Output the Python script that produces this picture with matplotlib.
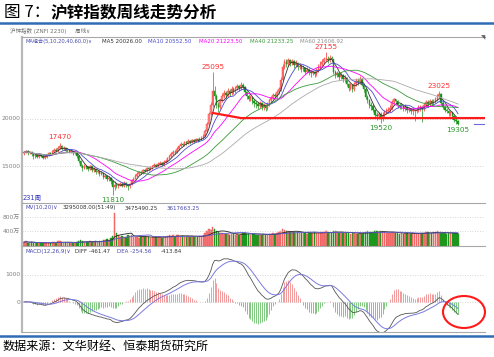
import numpy as np
import pandas as pd
import matplotlib
matplotlib.use('Agg')
import matplotlib.pyplot as plt
from matplotlib.patches import Ellipse

plt.rcParams['font.family'] = ['DejaVu Sans', 'Noto Sans CJK SC']

# ---------------- data (weekly bars) ----------------
opens = [
16300,16400,16550,16300,16450,16200,16000,16100,15950,16150,
16050,15850,15900,16100,16300,16250,16500,16700,16600,16900,
17100,16800,16900,16600,16700,16450,16550,16300,16400,16000,
15500,15000,14700,15000,14800,14600,14900,14500,14650,14300,
14400,14100,14200,13800,13900,13500,13700,13300,12700,12900,
12800,12950,13050,12850,13100,12900,12750,13000,13400,13600,
13900,14100,14300,14200,14500,14400,14700,14600,14800,14900,
15100,14950,15200,15300,15100,15400,15500,15800,16000,16200,
16500,16400,16800,17100,17300,17200,17500,17400,17600,17500,
17700,17600,17800,17700,17900,18000,18200,18700,19500,20500,
21500,23000,22500,21500,21300,22000,22500,22800,22600,23000,
22800,23200,23000,23300,23500,23300,23700,23400,22900,22500,
22200,22400,21900,21700,21600,21400,21700,21300,21500,21200,
21600,22000,22300,22600,22500,22900,23200,24200,25600,26100,
25900,26300,26000,26200,25800,26000,25600,25700,25400,25500,
25100,25300,25000,24900,25100,24800,25300,25600,25900,26100,
26400,26500,26300,26600,26400,25000,24700,24900,24500,24700,
24300,24400,23800,23300,23700,23200,23800,24100,24000,24300,
23700,23200,22400,22000,21500,21400,21000,20400,20300,20500,
20100,20400,20800,20900,21000,21200,21800,22100,21900,21500,
21400,21400,21200,21300,21000,21100,20900,20900,20900,21000,
21300,21300,21100,21500,21800,21600,21900,21700,21900,22100,
22500,22700,21700,21300,21000,20900,20600,20700,20300,19900,
19800]
closes = [
16400,16550,16300,16450,16200,16000,16100,15950,16150,16050,
15850,15900,16100,16300,16250,16500,16700,16600,16900,17100,
16800,16900,16600,16700,16450,16550,16300,16400,16000,15500,
15000,14700,15000,14800,14600,14900,14500,14650,14300,14400,
14100,14200,13800,13900,13500,13700,13300,12700,12900,12800,
12950,13050,12850,13100,12900,12750,13000,13400,13600,13900,
14100,14300,14200,14500,14400,14700,14600,14800,14900,15100,
14950,15200,15300,15100,15400,15500,15800,16000,16200,16500,
16400,16800,17100,17300,17200,17500,17400,17600,17500,17700,
17600,17800,17700,17900,18000,18200,18700,19500,20500,21500,
23000,22500,21500,21300,22000,22500,22800,22600,23000,22800,
23200,23000,23300,23500,23300,23700,23400,22900,22500,22200,
22400,21900,21700,21600,21400,21700,21300,21500,21200,21600,
22000,22300,22600,22500,22900,23200,24200,25600,26100,25900,
26300,26000,26200,25800,26000,25600,25700,25400,25500,25100,
25300,25000,24900,25100,24800,25300,25600,25900,26100,26400,
26500,26300,26600,26400,25000,24700,24900,24500,24700,24300,
24400,23800,23300,23700,23200,23800,24100,24000,24300,23700,
23200,22400,22000,21500,21400,21000,20400,20300,20500,20100,
20400,20800,20900,21000,21200,21800,22100,21900,21500,21400,
21400,21200,21300,21000,21100,20900,20900,20900,21000,21300,
21300,21100,21500,21800,21600,21900,21700,21900,22100,22500,
22700,21700,21300,21000,20900,20600,20700,20300,19900,19800,
19430]
highs = [
16550,16700,16650,16600,16550,16300,16250,16200,16300,16250,
16150,16050,16250,16450,16450,16650,16850,16850,17050,17470,
17200,17100,17000,16850,16800,16700,16600,16550,16450,16100,
15600,15150,15200,15100,14900,15050,14950,14800,14700,14550,
14500,14400,14250,14100,14000,13850,13750,13400,13300,13100,
13150,13250,13200,13300,13200,13000,13150,13550,13750,14050,
14250,14450,14450,14650,14600,14850,14800,14950,15100,15250,
15200,15350,15450,15400,15550,15700,15950,16150,16400,16650,
16650,16950,17250,17500,17450,17650,17650,17800,17750,17850,
17850,17950,17950,18050,18200,18400,18900,19700,20700,21800,
25095,23600,22700,21800,22200,22800,23100,23000,23300,23200,
23500,23400,23600,23800,23700,23950,23850,23500,23000,22700,
22600,22500,22100,21900,21800,21900,21800,21700,21600,21800,
22200,22500,22800,22800,23100,23400,24500,25900,26500,26400,
26600,26500,26500,26300,26300,26100,26000,25900,25800,25600,
25600,25500,25200,25300,25200,25500,25900,26200,26400,26700,
27155,26800,26900,26800,26500,25300,25200,25100,25000,24800,
24700,24500,23900,23900,23800,24000,24400,24400,24600,24400,
23800,23300,22600,22200,21800,21600,21100,20700,20800,20700,
20700,21000,21200,21300,21500,22000,22260,22200,22000,21700,
21700,21600,21600,21400,21300,21200,21200,21100,21200,21500,
21500,21400,21700,22000,22000,22100,22100,22200,22400,22700,
23025,22800,21900,21500,21200,21000,20900,20800,20400,20100,
19900]
lows = [
16150,16300,16100,16200,16050,15750,15850,15800,15850,15900,
15700,15650,15800,16000,16100,16150,16400,16450,16500,16800,
16650,16700,16450,16450,16300,16350,16150,16200,15850,15300,
14800,14450,14600,14600,14400,14500,14300,14350,14100,14150,
13900,13950,13600,13650,13300,13350,13050,11810,12400,12550,
12600,12750,12650,12700,12650,12400,12550,12900,13300,13500,
13750,14000,14050,14100,14250,14300,14450,14500,14650,14800,
14800,14850,15050,14950,15000,15300,15400,15700,15900,16100,
16250,16300,16700,17000,17050,17100,17250,17300,17350,17400,
17450,17500,17550,17600,17750,17900,18100,18600,19400,20300,
21300,22100,21200,20700,21100,21800,22300,22300,22400,22500,
22600,22700,22800,23100,23000,23100,23200,22600,22200,21900,
21900,21600,21300,21200,21100,21200,21000,21000,20900,21000,
21400,21800,22100,22200,22300,22700,23000,24100,25400,25600,
25700,25700,25800,25500,25600,25300,25400,25100,25200,24800,
24900,24700,24500,24700,24500,24600,25100,25400,25700,25900,
26200,26000,26100,26100,24800,24400,24500,24200,24300,24000,
24000,23500,23000,23100,22900,23000,23600,23700,23800,23500,
22900,22100,21700,21200,21000,20700,20100,19900,20000,19520,
19800,20200,20500,20600,20800,21000,21600,21600,21200,21100,
21100,20900,20900,20600,20700,20500,20400,19750,20600,20800,
20900,19700,20900,21300,21300,21400,21400,21500,21700,21900,
22300,21500,21100,20800,20600,20300,20300,20000,19700,19500,
19305]
volumes = [  # in 10k lots (万手)
105,130,95,90,115,80,90,70,95,80,
90,70,80,95,90,105,120,95,130,140,
105,95,90,80,95,90,80,90,120,150,
160,130,120,115,105,130,120,115,140,120,
150,130,165,160,190,175,230,280,900,370,
315,260,280,245,260,300,280,305,260,245,
255,230,260,245,235,260,245,230,255,245,
235,260,245,230,255,260,280,300,270,290,
260,300,290,270,280,260,255,280,260,270,
255,260,245,270,280,305,350,400,455,440,
525,455,400,385,370,350,330,325,340,315,
330,325,305,330,315,325,350,370,340,330,
315,340,325,305,300,315,305,325,300,315,
325,330,350,340,370,385,420,455,440,400,
420,395,375,385,370,375,360,350,370,350,
340,360,370,350,375,360,350,370,385,375,
400,385,370,350,420,400,385,370,375,360,
350,370,360,340,350,360,340,330,350,340,
370,385,400,395,375,385,400,420,395,410,
385,375,370,360,350,385,370,360,350,340,
350,340,360,350,340,330,350,340,330,340,
350,360,370,385,375,370,365,380,390,400,
366,360,350,345,340,345,350,355,350,350,
329.5]

extreme_bars = [19, 47, 100, 160, 189, 220, 230]
extreme_labels = ['17470', '11810', '25095', '27155', '19520', '23025', '19305']
extreme_is_high = [True, False, True, True, False, True, False]

support_x = [100, 115, 244.3]
support_y = [20650, 20100, 20100]

ma_windows = [5, 10, 20, 40, 60]
ma_colors = ['#333333', '#4a4ad0', '#ff00ff', '#3a9a3a', '#aaaaaa']
ma_legend = ['MA5 20026.00', 'MA10 20552.50', 'MA20 21223.50', 'MA40 21233.25', 'MA60 21606.92']

# ---------------- figure ----------------
W, H = 494, 357
fig = plt.figure(figsize=(W / 100, H / 100), dpi=100)

def fx(x):
    return x / W

def fy(y):
    return 1 - y / H

def add_ax(top, bottom, left=22, right=485):
    return fig.add_axes([left / W, 1 - bottom / H, (right - left) / W, (bottom - top) / H])

ax = add_ax(37, 203)
axv = add_ax(203, 246)
axm = add_ax(246, 332)

o = np.array(opens, float)
c = np.array(closes, float)
h = np.array(highs, float)
l = np.array(lows, float)
v = np.array(volumes, float)
n = len(c)
idx = np.arange(n)
XL = (-1.06, 244.3)
FS = 4.0

for a in (ax, axv, axm):
    a.set_xlim(*XL)
    a.set_xticks([])
    a.set_yticks([])
    for s in a.spines.values():
        s.set_visible(False)
    a.spines['left'].set_visible(True)
    a.spines['left'].set_color('#b8b8b8')
    a.spines['left'].set_linewidth(1.6)
    a.spines['top'].set_visible(True)
    a.spines['top'].set_color('#a8a8a8')
    a.spines['top'].set_linewidth(0.8)
axm.spines['bottom'].set_visible(True)
axm.spines['bottom'].set_color('#a8a8a8')
axm.spines['bottom'].set_linewidth(0.8)

# ---- price panel ----
ax.set_ylim(10970, 28815)
for lev in (20000, 15000):
    ax.axhline(lev, color='#c8c8c8', lw=0.6, ls=(0, (1, 2)))
up = c >= o
edge = np.where(up, '#ff3030', '#1d961d')
face = np.where(up, '#ff8a8a', '#1d961d')
ax.vlines(idx, l, h, colors=edge, lw=0.5, zorder=2)
body = np.maximum(np.abs(c - o), 40)
ax.bar(idx, body, bottom=np.minimum(o, c), width=0.8, color=face,
       edgecolor=edge, linewidth=0.3, zorder=3)
cs = pd.Series(c)
for w, col in zip(ma_windows, ma_colors):
    ax.plot(idx, cs.rolling(w, min_periods=1).mean(), color=col, lw=0.6, zorder=4)
ax.plot(support_x, support_y, color='#ff1a1a', lw=1.6, zorder=5)
ax.plot([238.5, 244.3], [c[-1], c[-1]], color='#6a6ad8', lw=0.8)

for b, lab, hi in zip(extreme_bars, extreme_labels, extreme_is_high):
    if hi:
        ax.annotate(lab, (b, h[b]), xytext=(0, 1.5), textcoords='offset points',
                    ha='center', va='bottom', fontsize=5.2, color='#ff3030')
    else:
        ax.annotate(lab, (b, l[b]), xytext=(0, -1), textcoords='offset points',
                    ha='center', va='top', fontsize=5.2, color='#2a962a')

# legend line
fig.text(fx(25), fy(41.5), 'MA组合(5,10,20,40,60,0)∨', fontsize=3.7, color='#4848b0', va='center')
for xx, txt, col in zip([102, 148, 199, 250, 300], ma_legend, ma_colors):
    fig.text(fx(xx), fy(41.5), txt, fontsize=FS, color=col if col != '#aaaaaa' else '#909090', va='center')
fig.text(fx(22.5), fy(198), '231周', fontsize=4.8, color='#3535c0', va='center')
fig.text(fx(20), fy(119), '20000', fontsize=4.3, color='#808080', va='center', ha='right')
fig.text(fx(20), fy(166), '15000', fontsize=4.3, color='#808080', va='center', ha='right')
fig.text(fx(483), fy(37.5), '◥', fontsize=4, color='#606060', va='center', ha='center')

# ---- volume panel ----
axv.set_ylim(0, 1180)
for lev in (400, 800):
    axv.axhline(lev, color='#c8c8c8', lw=0.6, ls=(0, (1, 2)))
vface = np.where(up, '#f47c7c', '#1d961d')
vedge = np.where(up, '#ee5050', '#1d961d')
axv.bar(idx, v, width=0.8, color=vface, edgecolor=vedge, linewidth=0.3)
vs = pd.Series(v)
axv.plot(idx, vs.rolling(10, min_periods=1).mean(), color='#222222', lw=0.6)
axv.plot(idx, vs.rolling(20, min_periods=1).mean(), color='#5a5ad0', lw=0.6)
fig.text(fx(25), fy(208), 'MV(10,20)∨', fontsize=FS, color='#4848b0', va='center')
fig.text(fx(63), fy(208), '3295008.00(51:49)', fontsize=FS, color='#333333', va='center')
fig.text(fx(125), fy(208), '3475490.25', fontsize=FS, color='#333333', va='center')
fig.text(fx(167), fy(208), '3617663.25', fontsize=FS, color='#4848b0', va='center')
fig.text(fx(20), fy(231.5), '400万', fontsize=4.3, color='#808080', va='center', ha='right')
fig.text(fx(20), fy(217), '800万', fontsize=4.3, color='#808080', va='center', ha='right')

# ---- MACD panel ----
ema12 = cs.ewm(span=12, adjust=False).mean()
ema26 = cs.ewm(span=26, adjust=False).mean()
diff = ema12 - ema26
dea = diff.ewm(span=9, adjust=False).mean()
macd = 2 * (diff - dea)
axm.set_ylim(-1111, 2074)
for lev in (1000, 0):
    axm.axhline(lev, color='#c8c8c8', lw=0.6, ls=(0, (1, 2)))
mcol = np.where(macd >= 0, '#f08a8a', '#6cbf6c')
axm.vlines(idx, 0, macd, colors=mcol, lw=0.6)
axm.plot(idx, diff, color='#555555', lw=0.6)
axm.plot(idx, dea, color='#7a7ae0', lw=0.7)
fig.text(fx(25), fy(251.5), 'MACD(12,26,9)∨', fontsize=FS, color='#4848b0', va='center')
fig.text(fx(75), fy(251.5), 'DIFF -461.47', fontsize=FS, color='#333333', va='center')
fig.text(fx(117), fy(251.5), 'DEA -254.56', fontsize=FS, color='#4848b0', va='center')
fig.text(fx(161), fy(251.5), '-413.84', fontsize=FS, color='#333333', va='center')
fig.text(fx(20), fy(275), '1000', fontsize=4.3, color='#808080', va='center', ha='right')
fig.text(fx(20), fy(302), '0', fontsize=4.3, color='#808080', va='center', ha='right')
circ = Ellipse((fx(464), fy(312)), 42 / W, 32 / H, transform=fig.transFigure,
               fill=False, edgecolor='#ff1a1a', lw=1.5)
fig.add_artist(circ)

# ---- header, title, source ----
fig.text(fx(10), fy(31), '沪锌指数 (ZNFI 2230)     周线∨', fontsize=4.0, color='#707070', va='center')
fig.text(fx(4), fy(12.5), '图 7：', fontsize=12, color='#000000', va='center',
         family=['Noto Sans CJK SC', 'DejaVu Sans'])
fig.text(fx(51), fy(12.5), '沪锌指数周线走势分析', fontsize=12, color='#000000', va='center',
         fontweight='bold', family=['Noto Sans CJK SC', 'DejaVu Sans'])
fig.add_artist(plt.Line2D([0, 1], [fy(22.5), fy(22.5)], transform=fig.transFigure,
                          color='#2e6cb5', lw=1.8))
fig.add_artist(plt.Line2D([0, 1], [fy(336), fy(336)], transform=fig.transFigure,
                          color='#2e6cb5', lw=1.8))
fig.text(fx(3), fy(346.5), '数据来源：文华财经、恒泰期货研究所', fontsize=8.7, color='#000000',
         va='center', family=['Noto Sans CJK SC', 'DejaVu Sans'])

fig.savefig('out.png', dpi=100, facecolor='white')
